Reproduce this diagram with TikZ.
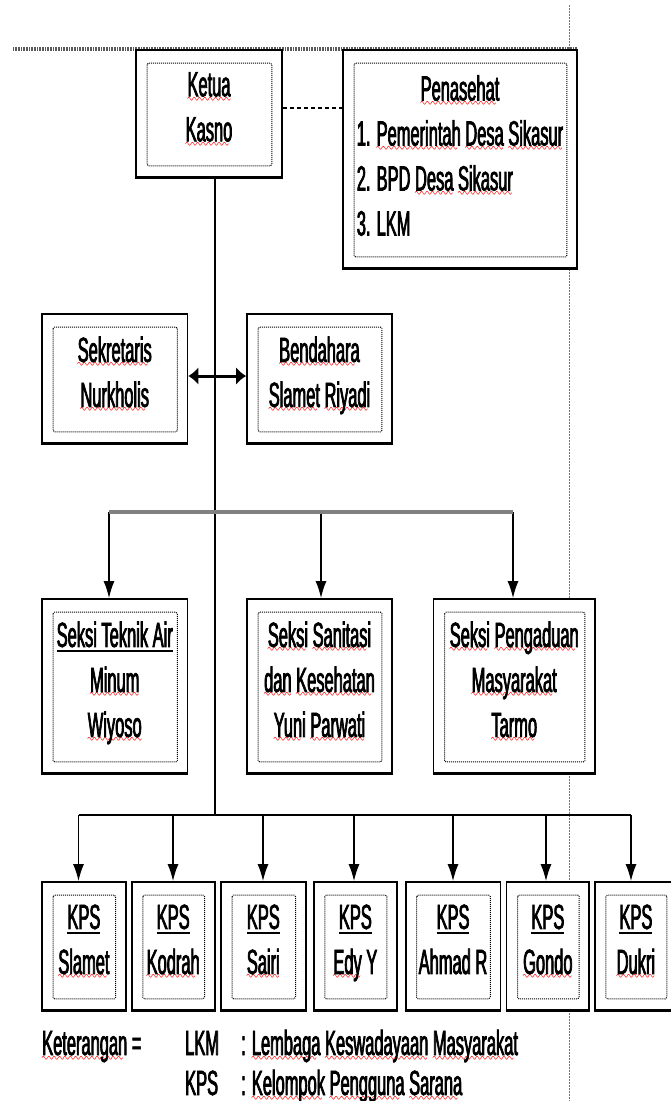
\documentclass[tikz,border=0pt]{standalone}
\usepackage{fontspec}
\usepackage{xcolor}
\usetikzlibrary{arrows.meta}
\setmainfont{Liberation Sans}
\newfontfamily\orgfont[FakeStretch=0.47, FakeBold=2]{Liberation Sans}
\font\wavefont=lasyb10
\newsavebox\wordbox
\newcommand\spell[1]{\sbox\wordbox{#1}\leavevmode\rlap{\textcolor{red}{\lower6pt\hbox to \wd\wordbox{\leaders\hbox{\scalebox{0.7}[1.3]{\wavefont\char58}}\hfill}}}\usebox\wordbox}
\newcommand\lineunder[1]{\sbox\wordbox{#1}\leavevmode\rlap{\vrule height -3pt depth 5pt width \wd\wordbox}\usebox\wordbox}

\begin{document}
\begin{tikzpicture}[x=1pt, y=-1pt, >={Latex[length=17pt,width=11pt]},
	every node/.style={font=\orgfont\fontsize{35}{45}\selectfont, inner sep=0pt},
	unit/.style={draw, line width=1.8pt, fill=white, align=center, execute at begin node=\strut, execute at end node=\strut},
	inframe/.style={line width=1pt, dash pattern=on 1pt off 1pt, rounded corners=1.5pt},
	pageline/.style={black!55, line width=0.8pt, dash pattern=on 1.5pt off 1.5pt}]
	\clip (0,0) rectangle (671,1101);
	% page edges
	\draw [pageline] (569,5) -- (569,1101);
	\draw [black!65, line width=4pt, dash pattern=on 0.8pt off 0.8pt] (13,49) -- (577,49);
	% boxes
	\node [unit, minimum width=146, minimum height=127] (ketua) at (209,113.5) {\spell{Ketua}\\\spell{Kasno}};
	\node [unit, minimum width=234, minimum height=218] (penasehat) at (460,159) {\begin{tabular}{@{}l@{}}\multicolumn{1}{@{}c@{}}{\spell{Penasehat}}\\1. \spell{Pemerintah} \spell{Desa} \spell{Sikasur}\\2. BPD \spell{Desa} \spell{Sikasur}\\3. LKM\end{tabular}};
	\node [unit, minimum width=145.5, minimum height=129] (sekretaris) at (114.75,378.5) {\spell{Sekretaris}\\\spell{Nurkholis}};
	\node [unit, minimum width=145, minimum height=129] (bendahara) at (319.5,378.5) {\spell{Bendahara}\\\spell{Slamet} \spell{Riyadi}};
	\node [unit, minimum width=145.5, minimum height=174] (teknik) at (114.75,686) {\lineunder{Seksi Teknik Air}\\\spell{Minum}\\\spell{Wiyoso}};
	\node [unit, minimum width=145, minimum height=174] (sanitasi) at (319.5,686) {\spell{Seksi} \spell{Sanitasi}\\\spell{dan} \spell{Kesehatan}\\\spell{Yuni} \spell{Parwati}};
	\node [unit, minimum width=161.5, minimum height=174] (pengaduan) at (514.25,686) {\spell{Seksi} \spell{Pengaduan}\\\spell{Masyarakat}\\\spell{Tarmo}};
	\foreach \x/\w/\nm [count=\i] in {83.9/83.8/{\spell{Slamet}}, 173.2/82.8/{\spell{Kodrah}}, 263.3/84.6/{\spell{Sairi}}, 355.35/83.3/{\spell{Edy} Y}, 453/94.8/{Ahmad R}, 547.85/82.9/{\spell{Gondo}}, 635.9/82.2/{\spell{Dukri}}}
		\node [unit, minimum width=\w, minimum height=128] (kps\i) at (\x,946) {\lineunder{KPS}\\\nm};
	\foreach \b in {ketua,penasehat,sekretaris,bendahara,teknik,sanitasi,pengaduan,kps1,kps2,kps3,kps4,kps5,kps6,kps7} {
		\draw [inframe] ([shift={(12,14)}]\b.north west) rectangle ([shift={(-11,-12)}]\b.south east);
		\draw [line width=2.8pt] (\b.south west) -- (\b.south east);
	}
	% lines
	\draw [line width=2.5pt, dash pattern=on 4pt off 3pt] ([yshift=5.5pt]ketua.east) -- ([yshift=5.5pt]ketua.east -| penasehat.west);
	\coordinate (trunk) at (215,815);
	\draw [line width=1.3pt] (ketua.south -| trunk) -- (trunk);
	\draw [{Latex[length=10pt,width=18pt]}-{Latex[length=10pt,width=18pt]}, line width=3pt] ([yshift=2.5pt]sekretaris.east) -- ([yshift=2.5pt]bendahara.west);
	\coordinate (bar1) at (109,512);
	\coordinate (bar2) at (321,512);
	\coordinate (bar3) at (513,512);
	\draw [->, line width=1.3pt] (bar1) -- (bar1 |- teknik.north);
	\draw [->, line width=1.3pt] (bar2) -- (bar2 |- sanitasi.north);
	\draw [->, line width=1.3pt] (bar3) -- (bar3 |- pengaduan.north);
	\draw [black!50, line width=4pt] (bar1) -- (bar3);
	\foreach \x [count=\i] in {78.5,173,263,354,453,546,631} {
		\coordinate (bus\i) at (\x,815);
		\draw [->, line width=1.3pt] (bus\i) -- (bus\i |- kps\i.north);
	}
	\draw [line width=2.8pt] (bus1) -- (bus7);
	% legend
	\node [anchor=base west] (legend) at (42,1055) {\spell{Keterangan} =};
	\node [anchor=base west] (lkmabbr) at (185,1055) {LKM};
	\node [anchor=base west] (lkmdef) at (241,1055) {: \spell{Lembaga} \spell{Keswadayaan}\ \spell{Masyarakat}};
	\node [anchor=base west] (kpsabbr) at (185,1095) {KPS};
	\node [anchor=base west] (kpsdef) at (241,1095) {: \spell{Kelompok} \spell{Pengguna} \spell{Sarana}};
\end{tikzpicture}
\end{document}
